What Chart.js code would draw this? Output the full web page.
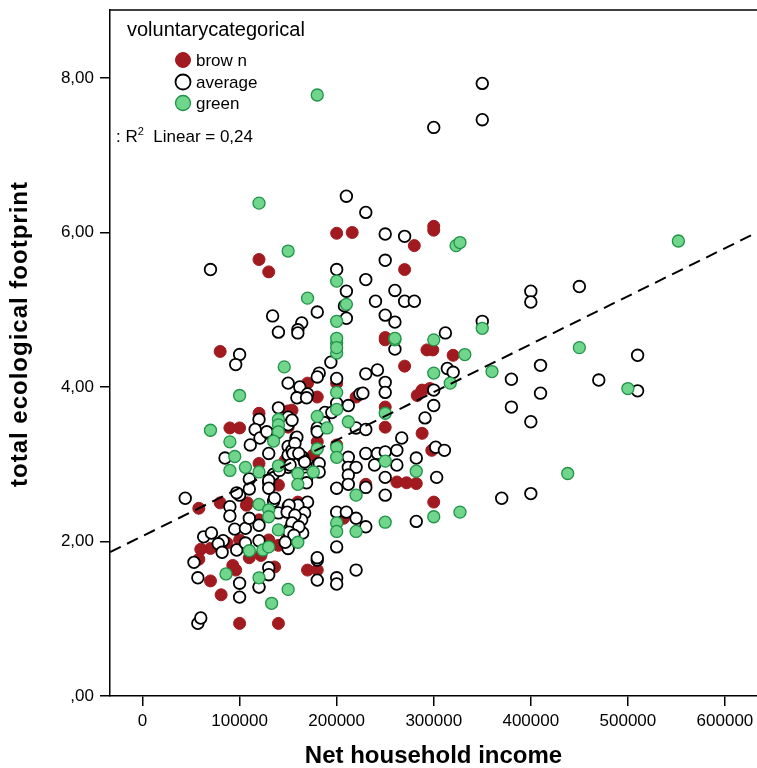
<!DOCTYPE html>
<html>
<head>
<meta charset="utf-8">
<script src="https://cdn.jsdelivr.net/npm/chart.js@4.4.1/dist/chart.umd.min.js"></script>
<style>
  html, body { margin: 0; padding: 0; background: #fff; }
  canvas { display: block; }
</style>
</head>
<body>
<canvas id="scatterChart" width="757" height="768"></canvas>
<script>
// Net household income (in thousands) and total ecological footprint, per group
const brownIncomeK = [58, 80, 107, 60, 70, 87, 58, 93, 96, 70, 81, 120, 136, 100, 140, 108, 140, 120, 100, 130,
    140, 110, 122, 150, 80, 120, 150, 90, 100, 120, 150, 250, 293, 299, 320, 270, 200, 170, 180, 220,
    288, 283, 296, 250, 250, 288, 154, 180, 176, 298, 262, 272, 282, 230, 300, 160, 207, 170, 180, 200,
    216, 300, 300, 280, 120, 130, 270, 250, 160, 200, 147, 149];
const brownFootprint = [2.43, 2.50, 2.47, 1.90, 1.91, 1.98, 1.77, 1.69, 1.63, 1.49, 1.31, 1.41, 1.67, 0.94, 0.94, 2.50, 2.73, 2.28, 2.02, 2.02,
    1.95, 1.79, 1.82, 1.91, 4.46, 3.66, 3.69, 3.47, 3.47, 3.01, 3.48, 4.61, 4.48, 4.48, 4.41, 4.27, 4.05, 4.05, 3.87, 3.87,
    3.96, 3.89, 3.98, 3.74, 3.48, 3.40, 3.70, 3.29, 3.12, 3.18, 2.77, 2.76, 2.75, 2.74, 2.51, 2.51, 2.30, 1.63, 1.63, 5.99,
    6.00, 6.03, 6.08, 5.83, 5.65, 5.49, 5.52, 4.64, 3.86, 3.25, 3.05, 2.04];

const averageIncomeK = [
    44, 90, 90, 100, 95, 106, 63, 71, 83, 78, 82, 97, 53, 57, 100, 100, 120, 130, 130, 57, 60,
    97, 110, 110, 130, 135, 140, 150, 155, 110, 120, 120, 106, 150, 150,
    100, 96, 150, 160, 120, 140, 150, 150, 116, 121, 111, 130, 138, 158, 85, 130, 150, 150, 154, 135, 150,
    260, 194, 182, 180, 230, 242, 314, 320, 200, 250, 250, 162, 170, 224, 227, 300, 300, 200, 212, 291, 180, 190, 220, 230, 154, 159,
    157, 155, 165, 212, 230, 242, 250, 262, 267, 302, 311, 262, 282, 239, 212, 220, 180, 303,
    212, 212, 200, 250, 230, 250, 170, 160, 167, 157, 164, 152, 165, 200, 210, 220, 230, 282, 200, 180, 180, 200, 200, 220,
    210, 230, 250, 270, 70, 250, 200, 230, 210, 260, 240, 270, 280, 208, 180, 134, 164, 160, 160, 140, 210, 250, 260, 312,
    400, 400, 450, 350, 510, 410, 380, 470, 510, 410, 380, 400, 370, 400,
    350, 350, 300,
    128, 159, 169, 188, 195, 187, 180, 180, 161, 152, 167, 182, 141, 182, 167, 130, 130, 136, 169, 169, 151, 149, 157, 154, 161, 151, 156, 147, 180];
const averageFootprint = [
    2.56, 2.45, 2.33, 2.60, 2.16, 2.17, 2.06, 2.11, 2.01, 1.97, 1.86, 1.89, 1.73, 1.53, 1.46, 1.28, 1.41, 1.66, 1.57, 0.94, 1.01,
    2.63, 2.81, 2.68, 2.76, 2.52, 2.37, 2.45, 2.32, 2.30, 2.21, 2.01, 1.98, 1.95, 1.91,
    4.42, 4.29, 4.05, 3.87, 3.58, 3.73, 3.61, 3.51, 3.45, 3.34, 3.25, 3.40, 3.40, 3.34, 3.08, 3.14, 3.23, 3.12, 3.18, 2.87, 2.96,
    4.49, 4.32, 4.18, 4.13, 4.17, 4.22, 4.24, 4.19, 4.11, 4.06, 3.93, 4.00, 3.91, 3.91, 3.92, 3.96, 3.76, 3.79, 3.76, 3.60, 3.44, 3.66, 3.47, 3.45, 3.57, 3.35,
    3.27, 3.14, 3.09, 3.09, 3.14, 3.14, 3.16, 3.18, 3.34, 3.22, 3.18, 2.99, 3.08, 2.99, 2.96, 2.96, 2.99, 2.83,
    2.86, 2.74, 2.69, 2.83, 2.70, 2.60, 2.51, 2.47, 2.37, 2.30, 2.28, 2.17, 2.11, 2.38, 2.38, 2.30, 2.19, 2.26, 1.93, 1.76, 1.50, 1.53, 1.45, 1.63,
    6.47, 6.26, 5.98, 5.95, 5.52, 5.64, 5.52, 5.39, 5.24, 5.25, 5.11, 5.11, 5.11, 5.05, 4.97, 4.92, 4.83, 4.74, 4.70, 4.71, 4.89, 4.93, 4.84, 4.70,
    5.24, 5.10, 5.30, 4.85, 4.41, 4.28, 4.10, 4.09, 3.95, 3.92, 3.74, 3.55, 2.56, 2.62,
    7.93, 7.46, 7.36,
    3.42, 3.86, 3.86, 3.67, 3.67, 3.54, 3.47, 3.42, 3.14, 2.99, 3.03, 3.01, 2.92, 2.90, 2.86, 2.79, 2.69, 2.56, 2.82, 2.76, 2.47, 2.38, 2.34, 2.24, 2.19, 2.12, 2.08, 1.99, 1.79];

const greenIncomeK = [120, 86, 120, 133, 150, 130, 130, 140, 110, 124, 130, 160, 146, 100, 140, 140, 140, 70, 135, 90,
    95, 106, 90, 120, 140, 160, 200, 200, 260, 300, 300, 317, 200, 200, 250, 180, 190, 212, 200, 200,
    180, 250, 282, 176, 160, 220, 300, 200, 200, 220, 250, 327, 120, 150, 323, 327, 200, 170, 210, 200,
    260, 200, 200, 552, 350, 332, 450, 360, 500, 438, 180];
const greenFootprint = [2.48, 1.58, 1.53, 1.20, 1.38, 2.41, 2.32, 2.15, 1.88, 1.89, 1.93, 1.99, 4.26, 3.89, 3.58, 3.51, 3.42, 3.44, 3.30, 3.29,
    3.10, 2.96, 2.92, 2.90, 2.98, 2.88, 4.57, 4.44, 4.61, 4.61, 4.18, 4.05, 3.93, 3.71, 3.66, 3.62, 3.47, 3.55, 3.22, 3.09,
    3.20, 3.04, 2.91, 2.90, 2.74, 2.60, 2.32, 2.24, 2.13, 2.13, 2.25, 2.38, 6.38, 5.76, 5.83, 5.87, 5.37, 5.15, 5.07, 4.85,
    4.63, 4.63, 4.51, 5.89, 4.76, 4.42, 4.51, 4.20, 3.98, 2.88, 7.78];

// linear fit (R2 = 0,24): footprint = intercept + slope * income(thousands)
const fitIntercept = 2.07;
const fitSlope = 0.00621;
const fitRangeK = [-33.5, 633];

const xTickValues = [0, 100000, 200000, 300000, 400000, 500000, 600000];
const yTickValues = [0, 2, 4, 6, 8];

const legendTitle = 'voluntarycategorical';
const legendLabels = ['brow n', 'average', 'green'];
const yTitle = 'total ecological footprint';

const BROWN = '#a11a1f';
const GREEN = '#6fd68b';
const GREEN_EDGE = '#1f9348';
const FONT = '"Liberation Sans", Arial, sans-serif';

function toPoints(incomeK, footprint) {
    return incomeK.map((v, i) => ({ x: v * 1000, y: footprint[i] }));
}

Chart.defaults.font.family = FONT;
Chart.defaults.color = '#000';

// legend box, R2 note, top frame and y title (SPSS style)
const legendPlugin = {
    id: 'spssLegend',
    afterDraw(chart) {
        const ctx = chart.ctx;
        const area = chart.chartArea;
        ctx.save();
        ctx.strokeStyle = '#000';
        ctx.lineWidth = 1.5;
        ctx.beginPath();
        ctx.moveTo(area.left, area.top);
        ctx.lineTo(area.right, area.top);
        ctx.stroke();

        // y axis title
        ctx.save();
        ctx.translate(20, 334);
        ctx.rotate(-Math.PI / 2);
        ctx.font = 'bold 24px ' + FONT;
        if ('letterSpacing' in ctx) ctx.letterSpacing = '1px';
        ctx.textAlign = 'center';
        ctx.textBaseline = 'middle';
        ctx.fillStyle = '#000';
        ctx.fillText(yTitle, 0, 0);
        ctx.restore();

        ctx.fillStyle = '#000';
        ctx.textBaseline = 'alphabetic';
        ctx.font = '20px ' + FONT;
        ctx.fillText(legendTitle, 127, 36);

        const styles = [
            { fill: BROWN, stroke: BROWN, w: 1 },
            { fill: '#fff', stroke: '#000', w: 1.8 },
            { fill: GREEN, stroke: GREEN_EDGE, w: 1.3 }
        ];
        const rowY = [60, 82, 103];
        ctx.font = '17px ' + FONT;
        legendLabels.forEach((lab, i) => {
            ctx.beginPath();
            ctx.arc(183, rowY[i], 7.5, 0, Math.PI * 2);
            ctx.fillStyle = styles[i].fill;
            ctx.fill();
            ctx.lineWidth = styles[i].w;
            ctx.strokeStyle = styles[i].stroke;
            ctx.stroke();
            ctx.fillStyle = '#000';
            ctx.fillText(lab, 196, rowY[i] + 6);
        });

        // ": R² Linear = 0,24"
        let x = 116;
        const base = 142;
        ctx.fillText(': R', x, base);
        x += ctx.measureText(': R').width;
        ctx.font = '11px ' + FONT;
        ctx.fillText('2', x, base - 7);
        x += ctx.measureText('2').width;
        ctx.font = '17px ' + FONT;
        ctx.fillText('  Linear = 0,24', x, base);
        ctx.restore();
    }
};

const ctx = document.getElementById('scatterChart').getContext('2d');
const scatterChart = new Chart(ctx, {
    type: 'scatter',
    data: {
        datasets: [{
            label: 'Linear',
            data: fitRangeK.map(v => ({ x: v * 1000, y: fitIntercept + fitSlope * v })),
            showLine: true,
            borderColor: '#000',
            borderWidth: 2,
            borderDash: [12, 7],
            pointRadius: 0
        }, {
            label: 'green',
            data: toPoints(greenIncomeK, greenFootprint),
            backgroundColor: GREEN,
            borderColor: GREEN_EDGE,
            borderWidth: 1.3,
            pointRadius: 6
        }, {
            label: 'average',
            data: toPoints(averageIncomeK, averageFootprint),
            backgroundColor: '#fff',
            borderColor: '#000',
            borderWidth: 1.8,
            pointRadius: 5.8
        }, {
            label: 'brown',
            data: toPoints(brownIncomeK, brownFootprint),
            backgroundColor: BROWN,
            borderColor: BROWN,
            borderWidth: 1,
            pointRadius: 6
        }]
    },
    options: {
        responsive: false,
        animation: false,
        devicePixelRatio: 1,
        layout: {
            autoPadding: false,
            padding: { top: 10, left: 0, right: 0, bottom: 0 }
        },
        scales: {
            x: {
                type: 'linear',
                min: -33500,
                max: 633000,
                afterBuildTicks: scale => { scale.ticks = xTickValues.map(v => ({ value: v })); },
                afterFit: scale => { scale.height = 72; scale.paddingLeft = 0; scale.paddingRight = 0; },
                ticks: {
                    font: { size: 17 },
                    padding: 5,
                    maxRotation: 0,
                    callback: v => String(v)
                },
                grid: {
                    drawOnChartArea: false,
                    drawTicks: true,
                    tickLength: 10,
                    color: '#000',
                    lineWidth: 1.5
                },
                border: { color: '#000', width: 1.5 },
                title: {
                    display: true,
                    text: 'Net household income',
                    font: { size: 24, weight: 'bold', lineHeight: 1 },
                    padding: { top: 0, bottom: 0 }
                }
            },
            y: {
                type: 'linear',
                min: 0,
                max: 8.88,
                afterBuildTicks: scale => { scale.ticks = yTickValues.map(v => ({ value: v })); },
                afterFit: scale => { scale.width = 110; scale.paddingTop = 0; scale.paddingBottom = 0; },
                ticks: {
                    font: { size: 17 },
                    padding: 6,
                    callback: v => v === 0 ? ',00' : v.toFixed(2).replace('.', ',')
                },
                grid: {
                    drawOnChartArea: false,
                    drawTicks: true,
                    tickLength: 10,
                    color: '#000',
                    lineWidth: 1.5
                },
                border: { color: '#000', width: 1.5 }
            }
        },
        plugins: {
            legend: { display: false },
            tooltip: { enabled: false }
        }
    },
    plugins: [legendPlugin]
});
</script>
</body>
</html>
